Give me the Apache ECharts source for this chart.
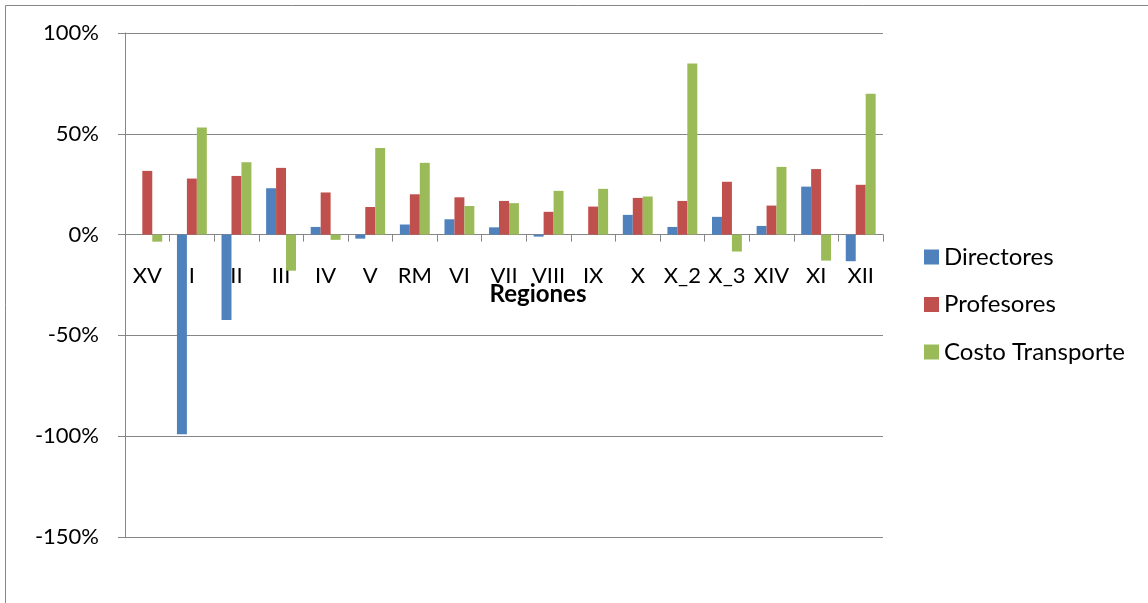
<!DOCTYPE html>
<html>
<head>
<meta charset="utf-8">
<script src="https://cdn.jsdelivr.net/npm/echarts@6/dist/echarts.min.js"></script>
<style>
html,body{margin:0;padding:0;background:#fff;}
#c{width:1148px;height:603px;}
</style>
</head>
<body>
<div id="c"></div>
<script>
const categories = ['XV','I','II','III','IV','V','RM','VI','VII','VIII','IX','X','X_2','X_3','XIV','XI','XII'];
const directores = [0, -99, -42.4, 23.0, 3.8, -2.0, 5.0, 7.6, 3.6, -1.0, 0, 9.8, 3.8, 8.8, 4.3, 23.8, -13.2];
const profesores = [31.6, 27.8, 29.1, 33.1, 20.9, 13.7, 20.0, 18.5, 16.7, 11.3, 13.9, 18.2, 16.7, 26.2, 14.4, 32.5, 24.7];
const costoTransporte = [-3.5, 53.1, 35.9, -17.9, -2.6, 43.0, 35.6, 14.2, 15.6, 21.7, 22.7, 18.9, 84.9, -8.4, 33.6, -12.9, 69.9];
const yTicks = { min: -150, max: 100, interval: 50 };

const FONT = 'Lato, "Open Sans", sans-serif';
const GRAY = '#868686';

const GRID_TOP = 33, GRID_BOTTOM = 66, H = 603;
const plotH = H - GRID_TOP - GRID_BOTTOM;
// distance from bottom of plot to the zero line, from the axis range
const zeroOffset = plotH * (0 - yTicks.min) / (yTicks.max - yTicks.min);

const chart = echarts.init(document.getElementById('c'), null, {renderer: 'canvas'});
chart.setOption({
  animation: false,
  backgroundColor: '#ffffff',
  textStyle: { fontFamily: FONT },
  graphic: [{
    type: 'rect',
    silent: true,
    shape: { x: 5.5, y: 5.5, width: 1300, height: 800 },
    style: { fill: 'none', stroke: GRAY, lineWidth: 1 }
  }],
  grid: { left: 125, right: 265, top: GRID_TOP, bottom: GRID_BOTTOM, containLabel: false, outerBoundsMode: 'none' },
  legend: {
    orient: 'vertical',
    left: 924,
    top: 245,
    padding: 0,
    itemWidth: 15,
    itemHeight: 15,
    itemGap: 23.5,
    icon: 'rect',
    textStyle: { fontFamily: FONT, fontSize: 24, color: '#000', lineHeight: 24 },
    data: ['Directores', 'Profesores', 'Costo Transporte']
  },
  xAxis: {
    type: 'category',
    data: categories,
    offset: -zeroOffset,
    name: 'Regiones',
    nameLocation: 'middle',
    nameGap: 60,
    nameMoveOverlap: false,
    nameTextStyle: { fontFamily: FONT, fontSize: 24, fontWeight: 'bold', color: '#000', verticalAlign: 'middle', padding: [0,0,0,68] },
    axisLine: { onZero: false, lineStyle: { color: GRAY, width: 1 } },
    axisTick: { show: true, length: 7, lineStyle: { color: GRAY } },
    axisLabel: { interval: 0, margin: 30, fontFamily: FONT, fontSize: 22, color: '#000' },
    splitLine: { show: false }
  },
  yAxis: {
    type: 'value',
    min: yTicks.min,
    max: yTicks.max,
    interval: yTicks.interval,
    axisLine: { show: true, lineStyle: { color: GRAY, width: 1 } },
    axisTick: { show: true, length: 7, lineStyle: { color: GRAY } },
    axisLabel: { margin: 26, fontFamily: FONT, fontSize: 22, color: '#000', formatter: '{value}%' },
    splitLine: { show: true, lineStyle: { color: GRAY, width: 1 } }
  },
  series: [
    { name: 'Directores', type: 'bar', data: directores, itemStyle: { color: '#4F81BD' }, barGap: '0%', barCategoryGap: '33%' },
    { name: 'Profesores', type: 'bar', data: profesores, itemStyle: { color: '#C0504D' }, barGap: '0%', barCategoryGap: '33%' },
    { name: 'Costo Transporte', type: 'bar', data: costoTransporte, itemStyle: { color: '#9BBB59' }, barGap: '0%', barCategoryGap: '33%' }
  ]
});
</script>
</body>
</html>
